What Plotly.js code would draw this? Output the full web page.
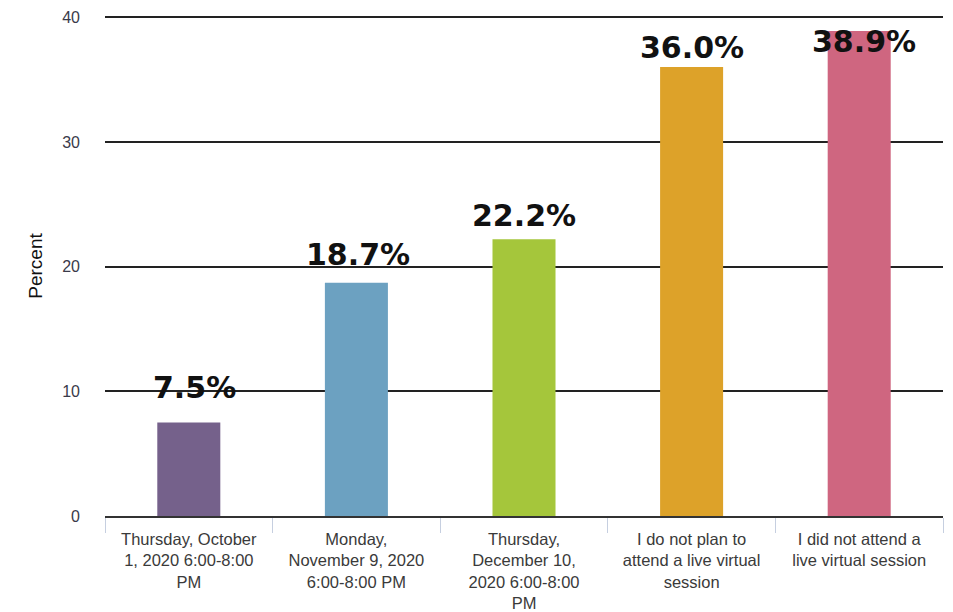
<!DOCTYPE html>
<html>
<head>
<meta charset="utf-8">
<script src="https://cdn.plot.ly/plotly-3.0.1.min.js"></script>
<style>html,body{margin:0;padding:0;background:#fff;}#chart{width:953px;height:612px;}</style>
</head>
<body>
<div id="chart"></div>
<script>
const categories = [
  "Thursday, October<br>1, 2020 6:00-8:00<br>PM",
  "Monday,<br>November 9, 2020<br>6:00-8:00 PM",
  "Thursday,<br>December 10,<br>2020 6:00-8:00<br>PM",
  "I do not plan to<br>attend a live virtual<br>session",
  "I did not attend a<br>live virtual session"
];
const percents = [7.5, 18.7, 22.2, 36.0, 38.9];
const valueLabels = ["7.5%", "18.7%", "22.2%", "36.0%", "38.9%"];
const barColors = ["#75618b", "#6ca1c1", "#a5c63b", "#dda229", "#cf6680"];

// label placement tweaks (pixels)
const labelYShift = [35, 28, 24, 20, -11];
const labelXShift = [6, 2, 0, 0, 5];

const trace = {
  type: "bar",
  x: categories,
  y: percents,
  marker: {color: barColors, line: {width: 0}},
  hoverinfo: "none"
};

const annotations = categories.map((c, i) => ({
  x: c, y: percents[i], xref: "x", yref: "y",
  text: valueLabels[i], showarrow: false,
  yanchor: "middle", xanchor: "center",
  yshift: labelYShift[i], xshift: labelXShift[i],
  font: {family: "DejaVu Sans", size: 30, color: "#111111", weight: "bold"}
}));

const layout = {
  width: 953, height: 612,
  margin: {l: 105, r: 10, t: 16, b: 96},
  paper_bgcolor: "#ffffff", plot_bgcolor: "#ffffff",
  showlegend: false,
  bargap: 0.624,
  font: {family: "Liberation Sans, Arial, sans-serif", color: "#3a3a3a"},
  xaxis: {
    type: "category",
    showgrid: false,
    showline: true, linecolor: "#333333", linewidth: 2,
    ticks: "outside", tickson: "boundaries", ticklen: 15, tickwidth: 1, tickcolor: "#c6cfe0",
    ticklabelstandoff: 7,
    tickfont: {size: 16.5, color: "#3a3a3a"},
    tickangle: 0,
    fixedrange: true
  },
  yaxis: {
    range: [0, 40.1],
    tickvals: [0, 10, 20, 30, 40],
    showgrid: true, gridcolor: "#222222", gridwidth: 2,
    zeroline: false,
    showline: false,
    ticks: "",
    ticklabelstandoff: 24,
    tickfont: {size: 16, color: "#3a3a4a"},
    title: {text: "Percent", font: {size: 19, color: "#111111"}, standoff: 14},
    fixedrange: true
  },
  annotations: annotations
};

Plotly.newPlot("chart", [trace], layout, {displayModeBar: false, staticPlot: true});
</script>
</body>
</html>
